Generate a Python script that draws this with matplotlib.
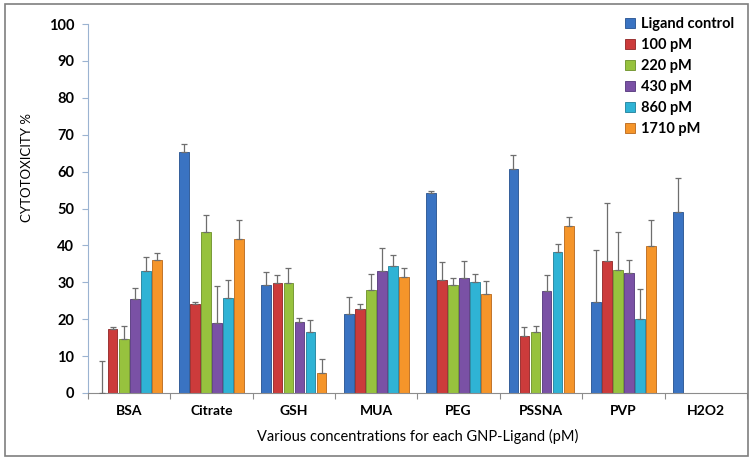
import numpy as np
import matplotlib
matplotlib.use("Agg")
import matplotlib.pyplot as plt
from matplotlib.patches import Rectangle

plt.rcParams['font.family'] = ['Lato', 'DejaVu Sans']

# data
ligands = ["BSA", "Citrate", "GSH", "MUA", "PEG", "PSSNA", "PVP", "H2O2"]
series = ["Ligand control", "100 pM", "220 pM", "430 pM", "860 pM", "1710 pM"]

ligand_control = [0.0, 65.3, 29.3, 21.4, 54.2, 60.6, 24.6, 49.1]
pm_100 = [17.4, 24.2, 29.8, 22.8, 30.7, 15.4, 35.9, np.nan]
pm_220 = [14.7, 43.7, 29.8, 28.0, 29.3, 16.4, 33.4, np.nan]
pm_430 = [25.5, 19.1, 19.2, 33.1, 31.1, 27.7, 32.5, np.nan]
pm_860 = [33.1, 25.7, 16.4, 34.4, 30.2, 38.1, 20.1, np.nan]
pm_1710 = [36.0, 41.6, 5.3, 31.4, 26.7, 45.3, 39.8, np.nan]

err_control = [8.8, 2.3, 3.4, 4.6, 0.5, 3.8, 14.2, 9.3]
err_100 = [0.6, 0.4, 2.1, 1.3, 4.7, 2.6, 15.7, np.nan]
err_220 = [3.4, 4.6, 4.2, 4.3, 1.8, 1.7, 10.3, np.nan]
err_430 = [3.0, 10.0, 1.0, 6.1, 4.8, 4.4, 3.6, np.nan]
err_860 = [3.7, 4.9, 3.5, 3.0, 2.1, 2.4, 8.0, np.nan]
err_1710 = [1.9, 5.3, 3.8, 2.6, 3.6, 2.3, 7.2, np.nan]

values = [ligand_control, pm_100, pm_220, pm_430, pm_860, pm_1710]
errors = [err_control, err_100, err_220, err_430, err_860, err_1710]

colors = ["#3a73c2", "#cc3b3b", "#97c23e", "#7a51a5", "#2fb3d5", "#f5952a"]
edges = ["#24508f", "#8f2424", "#6b8f27", "#52357a", "#1e7f99", "#b8661a"]

fig = plt.figure(figsize=(7.54, 4.62), dpi=100)
ax = fig.add_axes([0.1167, 0.1494, 0.874, 0.7986])

x = np.arange(len(ligands))
pitch = 0.134
width = 0.118
for i, (vals, errs) in enumerate(zip(values, errors)):
    pos = x + (i - 2.5) * pitch
    vals = np.array(vals, dtype=float)
    errs = np.array(errs, dtype=float)
    ax.bar(pos, vals, width, color=colors[i], edgecolor=edges[i], linewidth=0.6,
           label=series[i], zorder=2)
    ax.errorbar(pos, vals, yerr=[np.zeros_like(errs), errs], fmt="none",
                ecolor="#6e6e6e", elinewidth=0.9, capsize=2.5, capthick=0.9, zorder=3)

ax.set_xlim(-0.5, len(ligands) - 0.5)
ax.set_ylim(0, 100)
ax.set_yticks(np.arange(0, 101, 10))
ax.set_xticks(np.arange(-0.5, len(ligands), 1.0))
ax.set_xticklabels([])
ax.set_xticks(x, minor=True)
ax.set_xticklabels(ligands, minor=True, fontsize=10, fontweight="bold")
ax.tick_params(axis="x", which="major", length=4, color="#8c8c8c", direction="out")
ax.tick_params(axis="x", which="minor", length=0, pad=9)
ax.tick_params(axis="y", length=4, color="#9bb3d1", labelsize=10.5, pad=6)
for lab in ax.get_yticklabels():
    lab.set_fontweight("bold")

for side in ["top", "right"]:
    ax.spines[side].set_visible(False)
ax.spines["left"].set_color("#9bb3d1")
ax.spines["bottom"].set_color("#8c8c8c")

ax.set_ylabel("CYTOTOXICITY %", fontsize=9.5, labelpad=11)
ax.yaxis.set_label_coords(-0.083, 0.61)
ax.set_xlabel("Various concentrations for each GNP-Ligand (pM)", fontsize=10.5, labelpad=8)

leg = ax.legend(loc="upper right", bbox_to_anchor=(1.0, 1.055), frameon=False,
                handlelength=0.7, handleheight=0.7, handletextpad=0.4,
                labelspacing=0.48, prop={"weight": "bold", "size": 10.5})

fig.patches.append(Rectangle((0.007, 0.013), 0.985, 0.978, transform=fig.transFigure,
                             fill=False, edgecolor="#7f7f7f", linewidth=1.2))

fig.savefig("out.png", dpi=100)
